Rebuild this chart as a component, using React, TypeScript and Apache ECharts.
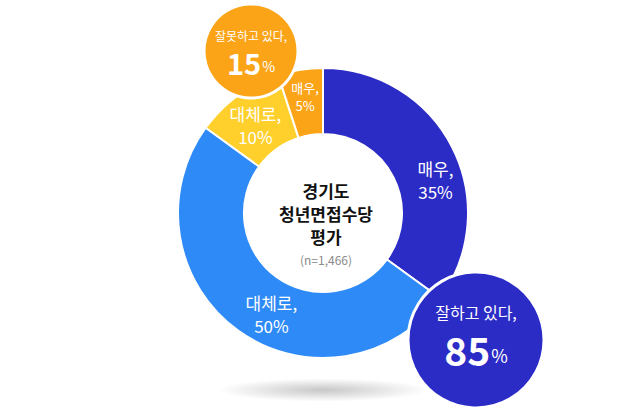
import React, { useEffect, useRef } from "react";
import * as echarts from "echarts";

const segmentNames = ["매우", "대체로", "대체로", "매우"];
const segmentValues = [35, 50, 10, 5];
const groupLabels = ["잘하고 있다,", "잘못하고 있다,"];
const centerTitle = ["경기도", "청년면접수당", "평가"];
const sampleNote = "(n=1,466)";

const FONT = '"Noto Sans CJK KR", "Noto Sans", sans-serif';
const colors = ["#2B2BC6", "#2E8AF6", "#FFD02B", "#FBA418"];
const labelShift = [
  [10, 19],
  [16, 8],
  [0, 5],
  [0, -3],
];

export default function App() {
  const ref = useRef<HTMLDivElement>(null);
  useEffect(() => {
    if (!ref.current) return;
    const chart = echarts.init(ref.current, null, { renderer: "svg" });
    const cx = 323;
    const cy = 213;
    const good = segmentValues[0] + segmentValues[1];
    const bad = segmentValues[2] + segmentValues[3];

    chart.setOption({
      animation: false,
      backgroundColor: "#ffffff",
      series: [
        {
          type: "pie",
          center: [cx, cy],
          radius: [79, 145],
          startAngle: 90,
          clockwise: true,
          avoidLabelOverlap: false,
          itemStyle: { borderColor: "#ffffff", borderWidth: 2 },
          label: {
            show: true,
            position: "inside",
            color: "#ffffff",
            fontFamily: FONT,
            formatter: (p: any) => {
              const small = p.dataIndex === 3 ? "s" : "n";
              return `{${small}|${segmentNames[p.dataIndex]},}\n{${small}|${p.value}%}`;
            },
            rich: {
              n: { fontSize: 17, lineHeight: 23, color: "#fff", fontFamily: FONT },
              s: { fontSize: 13, lineHeight: 18, color: "#fff", fontFamily: FONT },
            },
          },
          labelLayout: (p: any) => ({
            dx: labelShift[p.dataIndex][0],
            dy: labelShift[p.dataIndex][1],
          }),
          labelLine: { show: false },
          emphasis: { disabled: true },
          data: segmentValues.map((v, i) => ({
            value: v,
            name: segmentNames[i] + i,
            itemStyle: { color: colors[i] },
          })),
        },
      ],
      graphic: [
        {
          type: "circle",
          x: 323,
          y: 390,
          scaleY: 0.11,
          shape: { cx: 0, cy: 0, r: 105 },
          style: {
            fill: {
              type: "radial",
              x: 0.5,
              y: 0.5,
              r: 0.5,
              colorStops: [
                { offset: 0, color: "rgba(0,0,0,0.22)" },
                { offset: 1, color: "rgba(0,0,0,0)" },
              ],
            },
          },
          z: -1,
        },
        {
          type: "text",
          x: cx + 3,
          y: cy,
          style: {
            text: centerTitle.join("\n"),
            fontSize: 17,
            fontWeight: "bold",
            lineHeight: 23,
            fill: "#111111",
            fontFamily: FONT,
            align: "center",
            verticalAlign: "middle",
          },
        },
        {
          type: "text",
          x: cx + 3,
          y: 259,
          style: {
            text: sampleNote,
            fontSize: 12,
            fill: "#8a8a8a",
            fontFamily: FONT,
            align: "center",
            verticalAlign: "middle",
          },
        },
        {
          type: "circle",
          shape: { cx: 251, cy: 51, r: 47 },
          style: { fill: "#FBA418", stroke: "#ffffff", lineWidth: 3 },
          z: 10,
        },
        {
          type: "text",
          x: 251,
          y: 35,
          z: 11,
          style: {
            text: groupLabels[1],
            fontSize: 12,
            fill: "#ffffff",
            fontFamily: FONT,
            align: "center",
            verticalAlign: "middle",
          },
        },
        {
          type: "text",
          x: 251,
          y: 62,
          z: 11,
          style: {
            text: `{b|${bad}}{p|%}`,
            align: "center",
            verticalAlign: "middle",
            fontFamily: FONT,
            rich: {
              b: { fontSize: 29, fontWeight: "bold", fill: "#fff", fontFamily: FONT },
              p: { fontSize: 14, fill: "#fff", fontFamily: FONT, padding: [8, 0, 0, 1] },
            },
          },
        },
        {
          type: "circle",
          shape: { cx: 476, cy: 340, r: 68 },
          style: { fill: "#2B2BC6", stroke: "#ffffff", lineWidth: 3 },
          z: 10,
        },
        {
          type: "text",
          x: 476,
          y: 312,
          z: 11,
          style: {
            text: groupLabels[0],
            fontSize: 16,
            fill: "#ffffff",
            fontFamily: FONT,
            align: "center",
            verticalAlign: "middle",
          },
        },
        {
          type: "text",
          x: 476,
          y: 349,
          z: 11,
          style: {
            text: `{b|${good}}{p|%}`,
            align: "center",
            verticalAlign: "middle",
            fontFamily: FONT,
            rich: {
              b: { fontSize: 39, fontWeight: "bold", fill: "#fff", fontFamily: FONT },
              p: { fontSize: 18, fill: "#fff", fontFamily: FONT, padding: [12, 0, 0, 1] },
            },
          },
        },
      ],
    });
    return () => chart.dispose();
  }, []);
  return (
    <div
      ref={ref}
      style={{ position: "absolute", left: 0, top: 0, width: 620, height: 411 }}
    />
  );
}
